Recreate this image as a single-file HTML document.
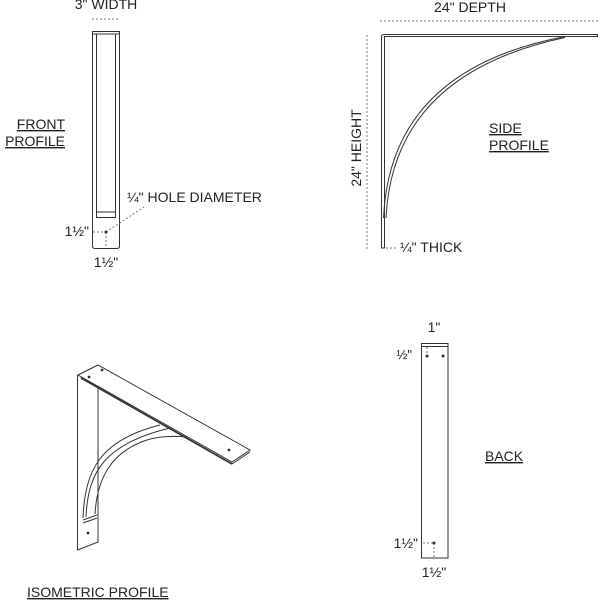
<!DOCTYPE html>
<html><head><meta charset="utf-8"><style>
html,body{margin:0;padding:0;background:#fff;}
svg{display:block;}
text{font-family:"Liberation Sans",sans-serif;fill:#222;}
</style></head><body>
<svg width="600" height="600" viewBox="0 0 600 600" xmlns="http://www.w3.org/2000/svg">
<g fill="none" stroke="#333" stroke-width="1">
<!-- FRONT -->
<path d="M92.5 31.5 H119.5 V246 Q119.5 248.5 117 248.5 H95 Q92.5 248.5 92.5 246 Z"/>
<line x1="92.5" y1="34" x2="119.5" y2="34"/>
<path d="M96.5 34 V217.5 H115.5 V34"/>
<line x1="96.5" y1="212" x2="115.5" y2="212"/>
<g stroke="#777" stroke-dasharray="2,2">
<line x1="92" y1="19" x2="120" y2="19"/>
<line x1="93" y1="232" x2="106" y2="232"/>
<line x1="106" y1="232" x2="106" y2="248"/>
<line x1="106" y1="232" x2="144" y2="207"/>
</g>
<circle cx="106" cy="232" r="1" fill="#333"/>
<!-- SIDE -->
<path d="M381.5 248 V37 Q381.5 34.5 384 34.5 H597.5 V36.5 H384.5 V248 Z"/>
<path d="M383.5 218 Q390 70 565 36.5" />
<path d="M386 218 Q393 74 565 37.5" />
<g stroke="#777" stroke-dasharray="2,2">
<line x1="380" y1="21" x2="598" y2="21"/>
<line x1="367" y1="35" x2="367" y2="250"/>
<line x1="386" y1="248" x2="398" y2="248"/>
</g>
<!-- ISO -->
<path d="M77.5 375 L77.5 550 L98 542 L98 388"/>
<path d="M78 375 L98 365 L250 450 L232 462 Z"/>
<path d="M81 378 L232 464" stroke-width="1.6"/>
<line x1="232" y1="464" x2="250" y2="452"/>
<path d="M98 388 L98 460"/>
<path d="M83 518 C85 470 100 440 160 425"/>
<path d="M86 517 C88 472 104 444 170 428"/>
<path d="M95 514 C97 480 110 452 147 440 C160 436 175 436 187 437"/>
<path d="M83 520 L97 515"/>
<path d="M83 523 L97 518"/>
<circle cx="89" cy="377" r="0.9" fill="#333"/>
<circle cx="102" cy="370" r="0.9" fill="#333"/>
<circle cx="229" cy="450" r="0.9" fill="#333"/>
<circle cx="88" cy="533" r="0.9" fill="#333"/>
<!-- BACK -->
<rect x="421.5" y="343.5" width="26.5" height="214.5"/>
<line x1="421.5" y1="346.5" x2="448" y2="346.5"/>
<g stroke="#777" stroke-dasharray="2,2">
<line x1="427" y1="347" x2="427" y2="356"/>
<line x1="423" y1="543" x2="434" y2="543"/>
<line x1="434" y1="543" x2="434" y2="558"/>
</g>
<circle cx="427" cy="356" r="1" fill="#333"/>
<circle cx="443" cy="356" r="1" fill="#333"/>
<circle cx="434" cy="543" r="1" fill="#333"/>
</g>
<g font-size="14">
<text x="106" y="9" text-anchor="middle">3" WIDTH</text>
<text x="65" y="129" text-anchor="end" text-decoration="underline">FRONT</text>
<text x="65" y="146" text-anchor="end" text-decoration="underline">PROFILE</text>
<text x="127" y="202">¼" HOLE DIAMETER</text>
<text x="89" y="236" text-anchor="end">1½"</text>
<text x="106" y="267" text-anchor="middle">1½"</text>
<text x="470" y="12" text-anchor="middle">24" DEPTH</text>
<text transform="translate(361,148) rotate(-90)" text-anchor="middle">24" HEIGHT</text>
<text x="489" y="133" text-anchor="start" text-decoration="underline">SIDE</text>
<text x="489" y="150" text-anchor="start" text-decoration="underline">PROFILE</text>
<text x="400" y="252">¼" THICK</text>
<text x="27" y="597" text-decoration="underline">ISOMETRIC PROFILE</text>
<text x="434" y="332" text-anchor="middle">1"</text>
<text x="412" y="359" text-anchor="end" font-size="13">½"</text>
<text x="485" y="461" text-decoration="underline">BACK</text>
<text x="418" y="548" text-anchor="end">1½"</text>
<text x="434" y="577" text-anchor="middle">1½"</text>
</g>
</svg>
</body></html>
